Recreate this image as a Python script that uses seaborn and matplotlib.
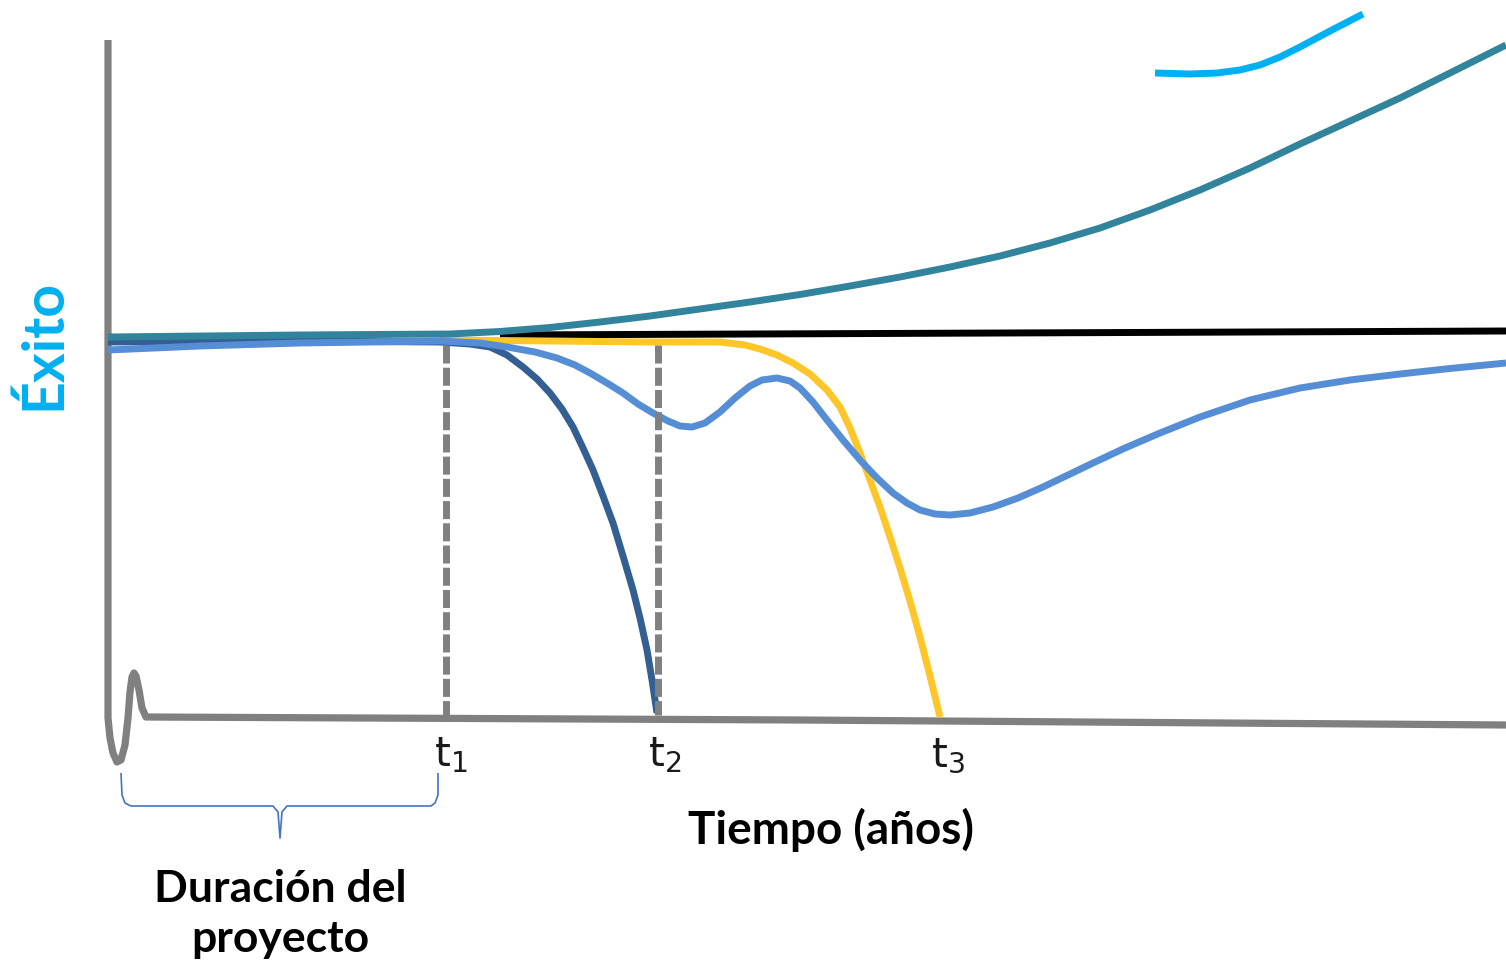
import matplotlib
matplotlib.use("Agg")
import matplotlib.pyplot as plt
import seaborn as sns
import pandas as pd

# Coordinates (pixel units, y grows downwards)
axis_x = [108, 108, 108, 110, 113, 117, 121, 125, 128, 130, 132, 134, 136, 139, 142, 146, 800, 1506]
axis_y = [40, 700, 718, 738, 753, 762, 760, 745, 718, 692, 677, 673, 676, 690, 708, 717, 720, 725]

base_x = [500, 1506]
base_y = [335, 331]

teal_x = [108, 300, 450, 500, 550, 600, 650, 700, 750, 800, 850, 900, 950, 1000, 1050, 1100, 1150, 1200,
          1250, 1300, 1350, 1400, 1450, 1506]
teal_y = [337, 335, 334, 331.5, 327.5, 322, 316, 309, 302, 294.5, 286, 277, 267, 256, 243, 228, 210, 190,
          168, 144, 121, 98, 73, 45]

cyan_x = [1155, 1190, 1217, 1240, 1260, 1280, 1300, 1330, 1363]
cyan_y = [73, 74, 73, 70, 65, 57, 47, 31, 14]

dark_x = [108, 300, 440, 470, 490, 507, 523, 537, 550, 562, 573, 583, 593, 603, 613, 623, 633, 640, 647, 652, 657]
dark_y = [342, 341, 342, 344, 347, 355, 367, 379, 393, 409, 427, 448, 470, 496, 523, 556, 590, 618, 650, 680, 713]

light_x = [108, 200, 300, 440, 480, 507, 535, 557, 575, 590, 607, 623, 638, 653, 668, 680, 692, 705, 720, 735,
           750, 762, 777, 790, 800, 813, 827, 843, 860, 877, 893, 907, 920, 935, 950, 970, 993, 1018, 1043,
           1068, 1093, 1125, 1160, 1200, 1250, 1300, 1350, 1400, 1450, 1506]
light_y = [350, 346, 343, 341, 343, 347, 352, 358, 365, 373, 383, 393, 404, 413, 421, 426, 427, 423, 412, 398,
           386, 380, 378, 381, 388, 402, 420, 440, 460, 478, 493, 503, 510, 514, 515, 513, 507, 498, 487,
           475, 463, 448, 433, 417, 400, 388, 380, 374, 368.5, 363]

gold_x = [440, 550, 650, 720, 745, 760, 777, 793, 810, 827, 840, 850, 860, 870, 880, 890, 900, 910, 920, 930, 940]
gold_y = [340, 341, 342, 342, 345, 349, 355, 363, 374, 390, 407, 428, 453, 480, 507, 537, 568, 601, 637, 676, 717]

event_x = [446, 658]
event_top = 345
event_bottom = 715

tick_x = [451, 665, 948]
tick_labels = ["t$_1$", "t$_2$", "t$_3$"]

brace_x = [121, 122, 125, 131, 273, 278, 280, 282, 287, 431, 435, 438, 438]
brace_y = [773, 795, 803, 806, 806, 812, 838, 812, 806, 806, 803, 795, 773]

sns.set_theme(style="white")
plt.rcParams['font.family'] = ['Lato', 'DejaVu Sans']
plt.rcParams['mathtext.fontset'] = 'dejavusans'

fig = plt.figure(figsize=(15.06, 9.65), dpi=100)
ax = fig.add_axes([0, 0, 1, 1])
ax.set_xlim(0, 1506)
ax.set_ylim(965, 0)
ax.axis("off")

lw = 5.0

def draw(xs, ys, color, width=lw, z=2):
    df = pd.DataFrame({"x": xs, "y": ys})
    sns.lineplot(data=df, x="x", y="y", sort=False, estimator=None, color=color,
                 linewidth=width, ax=ax, zorder=z, solid_capstyle="butt", solid_joinstyle="round")

draw(axis_x, axis_y, "#808080", width=5.2, z=1)
draw(base_x, base_y, "#000000", z=2)
draw(gold_x, gold_y, "#FFC62A", z=3)
draw(dark_x, dark_y, "#335F92", z=4)
draw(light_x, light_y, "#558ED5", z=5)
draw(teal_x, teal_y, "#31849B", z=6)
draw(cyan_x, cyan_y, "#00B0F0", z=6)
draw(brace_x, brace_y, "#4472C4", width=1.2, z=2)

for ex in event_x:
    ax.plot([ex, ex], [event_top, event_bottom], color="#808080", linewidth=lw,
            linestyle=(0, (2.6, 0.6)), dash_capstyle="butt", zorder=7)

for tx, tl in zip(tick_x, tick_labels):
    ax.text(tx, 755, tl, ha="center", va="center", fontsize=29, color="#1a1a1a",
            family="DejaVu Sans")

ax.text(831, 830, "Tiempo (años)", ha="center", va="center", fontsize=33,
        fontweight="bold", color="black")
ax.text(280, 914, "Duración del\nproyecto", ha="center", va="center", fontsize=32,
        fontweight="bold", color="black", linespacing=1.32)
ax.text(44, 345, "Éxito", ha="center", va="center", fontsize=41, rotation=90,
        fontweight="bold", color="#00B0F0")

fig.savefig("out.png", dpi=100)
